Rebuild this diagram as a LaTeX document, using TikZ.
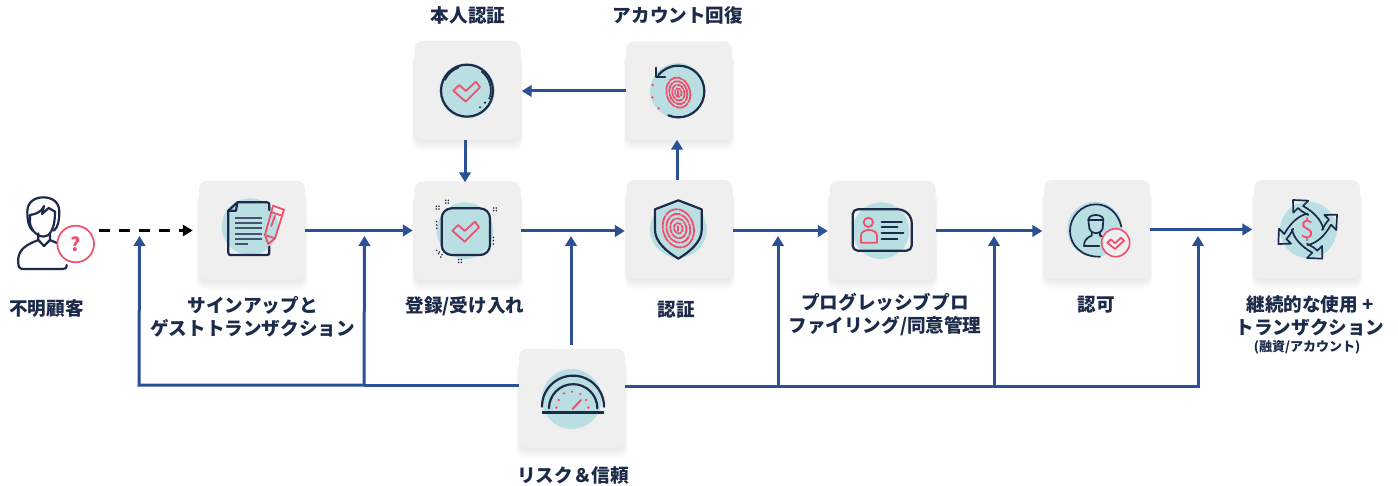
\documentclass[tikz,border=0pt]{standalone}
\usepackage{fontspec}
\setmainfont{Noto Sans CJK JP}
\usetikzlibrary{arrows.meta}
\definecolor{navy}{HTML}{1C2B4A}
\definecolor{teal0}{HTML}{BADFE2}
\definecolor{pinkc}{HTML}{F0506E}
\definecolor{tilec}{HTML}{EFEFEF}
\definecolor{flow}{HTML}{2B5093}
\definecolor{slate}{HTML}{45536E}
\tikzset{
 conn/.style={draw=flow,line width=3pt,-{Triangle[length=10pt,width=11.5pt]}},
 plainconn/.style={draw=flow,line width=3pt},
 dashconn/.style={draw=black,line width=3pt,dash pattern=on 11pt off 9pt,-{Triangle[length=10pt,width=11pt]}},
 tilebox/.style={fill=tilec,rounded corners=8pt,minimum width=106pt,minimum height=99pt,inner sep=0pt},
 lab/.style={text=navy,font=\fontsize{18.6}{23}\selectfont\bfseries,align=center,inner sep=0pt},
 ic/.style={draw=navy,line width=2.2pt,line join=round,line cap=round},
 icthin/.style={draw=navy,line width=1.7pt,line join=round,line cap=round},
 pk/.style={draw=pinkc,line width=1.8pt,line join=round,line cap=round},
 zf/.style={x=0.33333pt,y=-0.33333pt},
}
\newcommand{\tilenode}[3]{%
 \foreach \k in {1,...,8}{
  \fill[black,opacity=0.013,rounded corners=9pt] (#2-52-\k*0.45,#3-38) rectangle (#2+52+\k*0.45,#3+48+\k*1.5);
 }
 \node[tilebox] (#1) at (#2,#3) {};
}
\newcommand{\fprint}[4]{% cx cy rx ry (zoom units)
 \foreach \f/\d in {1/13,0.76/10,0.52/7,0.28/4}{
  \draw[pk,dash pattern=on \d pt off 1.6pt,rotate around={15:(#1,#2)}] (#1,#2) ellipse[x radius=#3*\f,y radius=#4*\f];
 }
 \draw[pk] (#1,#2-6) -- (#1,#2+8);
}
\newcommand{\checkmarkicon}{%
 \draw[pk] (160,272)--(178,255)--(197,273)--(228,245)--(240,262)--(197,305)--cycle;
}
\begin{document}
\begin{tikzpicture}[x=1pt,y=-1pt]
\useasboundingbox (0,0) rectangle (1398,486);
\fill[white] (0,0) rectangle (1398,486);

% tiles
\tilenode{signup}{252}{230.5}
\tilenode{enroll}{467.5}{231}
\tilenode{auth}{679.5}{229.5}
\tilenode{proof}{467.5}{90.5}
\tilenode{recov}{679}{91}
\tilenode{profile}{882.5}{230.5}
\tilenode{authz}{1097}{229.5}
\tilenode{cont}{1307}{229.5}
\tilenode{risk}{572}{398.5}
\node[minimum width=82pt,minimum height=66pt,inner sep=0pt] (cust) at (58,230.5) {};

% helper points
\coordinate (riskW) at (519,385);
\coordinate (riskE) at (625,386);
\coordinate (busA) at (139,385);
\coordinate (busB) at (364,385);
\coordinate (busC) at (778,386);
\coordinate (busD) at (994,386);
\coordinate (busE) at (1198,386);
\coordinate (tipA) at (139.5,236);
\coordinate (tipB) at (364.5,236);
\coordinate (tipC) at (778,236);
\coordinate (tipD) at (994,236);
\coordinate (tipE) at (1198,236);
\coordinate (tipR) at (571,236);
\coordinate (riskN) at (571,345);

% connectors
\draw[dashconn,shorten >=6pt] (cust.east) -- (signup.west);
\draw[conn,shorten >=1.5pt] (signup.east) -- (enroll.west |- signup.east);
\draw[conn,shorten >=1.5pt] (enroll.east) -- (auth.west |- enroll.east);
\draw[conn,shorten >=1.5pt] (auth.east |- enroll.east) -- (profile.west |- enroll.east);
\draw[conn,shorten >=1.5pt] (profile.east |- enroll.east) -- (authz.west |- enroll.east);
\draw[conn,shorten >=1.5pt] (authz.east) -- (cont.west);
\draw[conn,shorten >=1pt] (recov.west) -- (proof.east |- recov.west);
\draw[conn] ([xshift=-2.5pt]proof.south) -- ([xshift=-2.5pt,yshift=-1pt]enroll.north);
\draw[conn] ([xshift=-2.5pt]auth.north) -- ([xshift=-2pt,yshift=1pt]recov.south);
\draw[conn] (riskN) -- (tipR);
\draw[plainconn] (riskW) -- (busB);
\draw[conn,line join=miter] (busB) -- (busA) -- (tipA);
\draw[conn] (busB) -- (tipB);
\draw[plainconn] (riskE) -- (busC) -- (busD);
\draw[conn] (busC) -- (tipC);
\draw[conn] (busD) -- (tipD);
\draw[conn,line join=miter] (busD) -- (busE) -- (tipE);

% unknown customer + document (zoom frame 1)
\begin{scope}[shift={(0,170)},zf]
 \draw[ic] (200,285) .. controls (200,295) and (195,297) .. (188,297) -- (70,297) .. controls (58,297) and (55,290) .. (55,280) -- (55,265) .. controls (58,240) and (75,225) .. (115,210) -- (115,190);
 \draw[ic] (150,190) -- (150,210) -- (178,222);
 \draw[ic] (115,210) -- (132,228) -- (150,210);
 \draw[ic] (98,182) .. controls (85,170) and (82,150) .. (82,125) .. controls (82,95) and (105,82) .. (130,82) .. controls (155,82) and (178,95) .. (178,125) .. controls (178,150) and (175,170) .. (162,182);
 \draw[ic] (90,135) -- (90,160) .. controls (95,185) and (115,200) .. (130,200) .. controls (148,200) and (165,180) .. (165,125);
 \draw[ic] (90,135) .. controls (110,132) and (125,125) .. (132,108) -- (126,132) -- (146,114) -- (165,125);
 \fill[white] (227,222) circle[radius=55];
 \draw[draw=pinkc,line width=1.7pt] (227,222) circle[radius=55];
 \node[text=pinkc,font=\fontsize{19}{19}\selectfont\bfseries,inner sep=0pt] (qmark) at (227,222) {?};
 % document
 \fill[teal0] (750,170) circle[radius=85];
 \draw[ic] (808,120) -- (808,105) .. controls (808,99) and (806,97) .. (800,97) -- (712,97) -- (685,122) -- (685,248) .. controls (685,253) and (688,255) .. (692,255) -- (800,255) .. controls (806,255) and (808,253) .. (808,248) -- (808,230);
 \draw[ic] (685,122) -- (708,122) -- (712,97);
 \foreach \yy in {143,158,175,191,207}{\draw[draw=slate,line width=1.8pt] (705,\yy) -- (787,\yy);}
 \draw[draw=slate,line width=1.8pt] (705,222) -- (745,222);
 \draw[pk] (819,107) -- (852,119) -- (825,205) -- (805,222) -- (795,195) -- cycle;
 \draw[pk] (813,126) -- (846,137);
 \draw[pk] (795,195) -- (825,205);
 \draw[pk] (825,137) -- (814,168);
\end{scope}

% proof + recovery (zoom frame 2)
\begin{scope}[shift={(400,0)},zf]
 \fill[teal0] (201,272) circle[radius=83];
 \draw[ic] (201,272) circle[radius=78];
 \draw[icthin] (135,240) arc[start angle=205,end angle=250,radius=72];
 \draw[icthin] (245,215) arc[start angle=308,end angle=375,radius=72];
 \foreach \a/\b in {240/322,255/308,268/295}{\fill[navy] (\a,\b) circle[radius=3.5];}
 \checkmarkicon
 \fill[teal0] (833,272) circle[radius=83];
 \draw[ic] (775,225) .. controls (790,208) and (810,197) .. (835,197) .. controls (880,197) and (913,232) .. (913,274) .. controls (913,318) and (878,352) .. (835,352) .. controls (825,352) and (815,350) .. (805,346);
 \draw[ic] (767,203) -- (767,230) -- (795,230);
 \fprint{835}{278}{35}{46}
 \foreach \a/\b in {758/255,757/292,776/325}{\fill[pinkc] (\a,\b) circle[radius=4];}
\end{scope}

% enroll + shield (zoom frame 3)
\begin{scope}[shift={(400,170)},zf]
 \fill[teal0] (195,182) circle[radius=85];
 \draw[ic,rounded corners=10pt] (125,115) rectangle (270,255);
 \begin{scope}[shift={(-3,-90)}]
  \checkmarkicon
 \end{scope}
 \foreach \a/\b in {113/113,141/95,285/118,180/273}{
  \foreach \p/\q in {-4/-4,4/-4,-4/4,4/4}{\fill[navy] (\a+\p,\b+\q) circle[radius=2.6];}
 }
 \foreach \q in {155,165,175}{\fill[navy] (110,\q) circle[radius=2.6];}
 \foreach \q in {202,212,222}{\fill[navy] (280,\q) circle[radius=2.6];}
 \foreach \p/\q in {110/241,118/246,126/254,116/251,122/261}{\fill[navy] (\p,\q) circle[radius=2.6];}
 \fill[teal0] (835,178) circle[radius=85];
 \draw[ic] (835,91) -- (905,118) -- (905,180) .. controls (905,215) and (870,245) .. (835,266) .. controls (800,245) and (765,215) .. (765,180) -- (765,118) -- cycle;
 \fprint{835}{175}{46}{58}
\end{scope}

% profile + authz (zoom frame 4)
\begin{scope}[shift={(780,170)},zf]
 \fill[teal0] (303,182) circle[radius=85];
 \draw[ic,rounded corners=5pt] (218,118) -- (370,118) -- (395,142) -- (395,242) -- (218,242) -- cycle;
 \draw[pk] (265,157) circle[radius=14];
 \draw[pk] (243,218) -- (243,198) .. controls (243,185) and (255,180) .. (266,180) .. controls (278,180) and (291,185) .. (291,198) -- (291,218) -- cycle;
 \foreach \xa/\yy in {365/155,352/172,370/190,352/207}{\draw[ic] (305,\yy) -- (\xa,\yy);}
 \fill[teal0] (945,178) circle[radius=83];
 \draw[icthin] (1024,170) .. controls (1015,130) and (985,103) .. (948,103) .. controls (905,103) and (870,140) .. (870,183) .. controls (870,225) and (905,262) .. (960,260);
 \draw[icthin] (925,150) .. controls (925,130) and (970,130) .. (970,150) -- (968,175) .. controls (962,195) and (935,195) .. (928,175) -- cycle;
 \draw[icthin] (925,150) -- (970,150);
 \draw[icthin] (935,187) -- (935,197) .. controls (920,203) and (912,212) .. (912,228) -- (958,228);
 \draw[icthin] (960,187) -- (960,197) -- (972,202);
 \fill[tilec] (1007,218) circle[radius=42];
 \draw[draw=pinkc,line width=1.6pt] (1007,218) circle[radius=42];
 \draw[pk] (982,218) -- (993,208) -- (1005,220) -- (1023,203) -- (1032,212) -- (1005,237) -- cycle;
\end{scope}

% continuous use (zoom frame 5)
\begin{scope}[shift={(1180,170)},zf]
 \fill[teal0] (385,180) circle[radius=85];
 \foreach \r in {0,90,180,270}{
  \begin{scope}[rotate around={\r:(383,178)}]
   \draw[icthin] (430,178) .. controls (425,150) and (400,125) .. (369,108) -- (385,92) -- (339,90) -- (340,128) -- (354,114) .. controls (370,130) and (385,133) .. (385,135);
  \end{scope}
 }
 \node[text=pinkc,font=\fontsize{25}{25}\selectfont,inner sep=0pt] (dollar) at (382,178) {\$};
\end{scope}

% gauge (zoom frame 6)
\begin{scope}[shift={(480,340)},zf]
 \fill[teal0] (275,177) circle[radius=90];
 \draw[ic,line width=2.4pt,line cap=butt] (187,218) -- (372,218);
 \draw[ic] (186,200) arc[start angle=180,end angle=360,radius=93];
 \draw[ic] (207,205) arc[start angle=180,end angle=360,radius=72.5];
 \foreach \a/\b in {229/203,236/180,252/160,276/155,301/162,318/180,325/203}{\fill[pinkc] (\a,\b) circle[radius=4];}
 \draw[pk,line width=2pt] (278,207) -- (303,180);
\end{scope}

% labels
\node[lab] (lCust) at (46.5,309) {不明顧客};
\node[lab] (lSign) at (252.5,316.5) {サインアップと\\ゲストトランザクション};
\node[lab] (lEnroll) at (465,306) {登録/受け入れ};
\node[lab] (lAuth) at (676,310) {認証};
\node[lab] (lProf) at (885,315) {プログレッシブプロ\\ファイリング/同意管理};
\node[lab] (lAuthz) at (1096,305) {認可};
\node[lab] (lCont) at (1310,315.5) {継続的な使用 +\\トランザクション};
\node[text=navy,font=\fontsize{13}{14}\selectfont\bfseries,inner sep=0pt] (lContB) at (1307,347.5) {(融資/アカウント)};
\node[lab] (lRisk) at (573,475) {リスク＆信頼};
\node[lab] (lProof) at (468,15) {本人認証};
\node[lab] (lRecov) at (678,15) {アカウント回復};
\end{tikzpicture}
\end{document}
